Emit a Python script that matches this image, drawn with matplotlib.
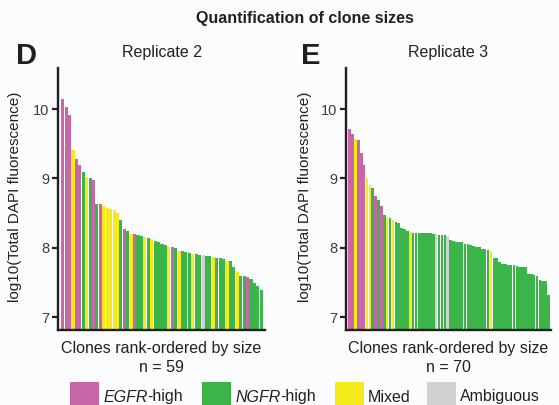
import matplotlib
matplotlib.use('Agg')
import matplotlib.pyplot as plt
from matplotlib.patches import Rectangle

plt.rcParams['font.family'] = ['Liberation Sans', 'DejaVu Sans']

# log10(total DAPI fluorescence) per clone, rank-ordered
rep2_sizes = [10.14, 10.03, 9.91, 9.41, 9.28, 9.19, 9.09, 9.02, 9.00, 8.98,
              8.63, 8.63, 8.60, 8.58, 8.56, 8.55, 8.50, 8.40, 8.27, 8.24,
              8.20, 8.20, 8.19, 8.17, 8.16, 8.14, 8.13, 8.10, 8.08, 8.06,
              8.05, 8.02, 8.01, 8.00, 7.96, 7.95, 7.94, 7.93, 7.92, 7.91,
              7.90, 7.90, 7.89, 7.88, 7.87, 7.86, 7.85, 7.84, 7.82, 7.81,
              7.73, 7.66, 7.60, 7.59, 7.58, 7.55, 7.49, 7.46, 7.40]
# E = EGFR-high, N = NGFR-high, M = Mixed, A = Ambiguous
rep2_class = ['E', 'E', 'E', 'M', 'E', 'E', 'N', 'M', 'N', 'E',
              'N', 'E', 'M', 'M', 'M', 'M', 'M', 'N', 'E', 'N',
              'M', 'E', 'N', 'N', 'M', 'N', 'M', 'N', 'N', 'N',
              'N', 'M', 'E', 'N', 'M', 'N', 'N', 'N', 'M', 'N',
              'N', 'A', 'N', 'N', 'M', 'N', 'N', 'N', 'M', 'N',
              'N', 'M', 'N', 'N', 'E', 'N', 'N', 'N', 'N']

rep3_sizes = [9.71, 9.64, 9.57, 9.55, 9.37, 9.20, 9.01, 8.91, 8.86, 8.75,
              8.69, 8.60, 8.47, 8.44, 8.43, 8.40, 8.38, 8.36, 8.29, 8.28,
              8.25, 8.23, 8.22, 8.22, 8.22, 8.22, 8.21, 8.21, 8.21, 8.20,
              8.20, 8.19, 8.18, 8.18, 8.17, 8.11, 8.10, 8.09, 8.09, 8.08,
              8.06, 8.06, 8.05, 8.03, 8.02, 8.02, 7.99, 7.98, 7.97, 7.96,
              7.86, 7.85, 7.80, 7.77, 7.77, 7.76, 7.76, 7.75, 7.74, 7.73,
              7.72, 7.72, 7.63, 7.62, 7.61, 7.60, 7.54, 7.53, 7.53, 7.32]
rep3_class = ['E', 'E', 'M', 'E', 'E', 'E', 'M', 'M', 'N', 'E',
              'N', 'E', 'N', 'M', 'N', 'M', 'N', 'N', 'N', 'N',
              'N', 'M', 'N', 'N', 'N', 'N', 'N', 'N', 'N', 'N',
              'A', 'N', 'N', 'N', 'A', 'N', 'N', 'N', 'N', 'N',
              'N', 'N', 'N', 'N', 'N', 'N', 'N', 'N', 'N', 'M',
              'N', 'N', 'N', 'N', 'N', 'N', 'N', 'N', 'N', 'N',
              'N', 'N', 'N', 'N', 'N', 'N', 'N', 'N', 'N', 'N']

colors = {'E': '#c866aa', 'N': '#3bb54a', 'M': '#f4ea1c', 'A': '#d0d2d1'}
legend_items = [('E', 'EGFR', '-high'), ('N', 'NGFR', '-high'),
                ('M', '', 'Mixed'), ('A', '', 'Ambiguous')]

W, H = 559, 405
BG = '#fbfcfe'
INK = '#231f20'
YLO, YHI = 6.82, 10.59

fig = plt.figure(figsize=(W / 100, H / 100), dpi=100, facecolor=BG)


def px(x, y):
    return x / W, 1 - y / H


def panel(x0, x1, sizes, cls, title, letter, letter_x, ylab_x, xpad):
    left, bottom = px(x0, 330)
    ax = fig.add_axes([left, bottom, (x1 - x0) / W, (330 - 68) / H])
    ax.set_facecolor(BG)
    n = len(sizes)
    xs = list(range(n))
    heights = [v - YLO for v in sizes]
    ax.bar(xs, heights, bottom=YLO, width=0.9,
           color=[colors[c] for c in cls], linewidth=0)
    ax.set_xlim(-0.5 - xpad[0], n - 0.5 + xpad[1])
    ax.set_ylim(YLO, YHI)
    ax.set_yticks([7, 8, 9, 10])
    ax.set_xticks([])
    for s in ['top', 'right']:
        ax.spines[s].set_visible(False)
    for s in ['left', 'bottom']:
        ax.spines[s].set_color(INK)
        ax.spines[s].set_linewidth(1.7)
    ax.tick_params(axis='y', length=4, width=1.6, color=INK,
                   labelsize=10.5, labelcolor='#3c3c3c', pad=2)
    ax.set_title(title, fontsize=11.5, color=INK, pad=8)
    ax.set_xlabel(f'Clones rank-ordered by size\nn = {n}', fontsize=11.5,
                  color=INK, labelpad=8, linespacing=1.3)
    fig.text(*px(ylab_x, 197), 'log10(Total DAPI fluorescence)', rotation=90,
             ha='center', va='center', fontsize=11, color=INK)
    fig.text(*px(letter_x, 56), letter, fontsize=21, fontweight='bold',
             color=INK, ha='center', va='center')
    return ax


panel(58, 265, rep2_sizes, rep2_class, 'Replicate 2', 'D', 26, 15, (0.88, 0.6))
panel(346, 551, rep3_sizes, rep3_class, 'Replicate 3', 'E', 311, 305, (0.8, 0.35))

fig.text(*px(305, 18), 'Quantification of clone sizes', fontsize=11.5,
         fontweight='bold', color=INK, ha='center', va='center')

# legend along the bottom edge
patch_x = [70, 202, 335, 427]
for (code, it, rest), x in zip(legend_items, patch_x):
    fx, fy = px(x, 412)
    fig.add_artist(Rectangle((fx, fy), 29 / W, 30 / H, transform=fig.transFigure,
                             facecolor=colors[code], edgecolor='none'))
    tx, ty = px(x + 33, 397)
    if it:
        t1 = fig.text(tx, ty, it, style='italic', fontsize=11.5, color=INK,
                      ha='left', va='center')
        fig.canvas.draw()
        bb = t1.get_window_extent()
        fig.text(bb.x1 / W, ty, rest, fontsize=11.5, color=INK,
                 ha='left', va='center')
    else:
        fig.text(tx, ty, rest, fontsize=11.5, color=INK, ha='left', va='center')

fig.savefig('out.png', dpi=100, facecolor=BG)
